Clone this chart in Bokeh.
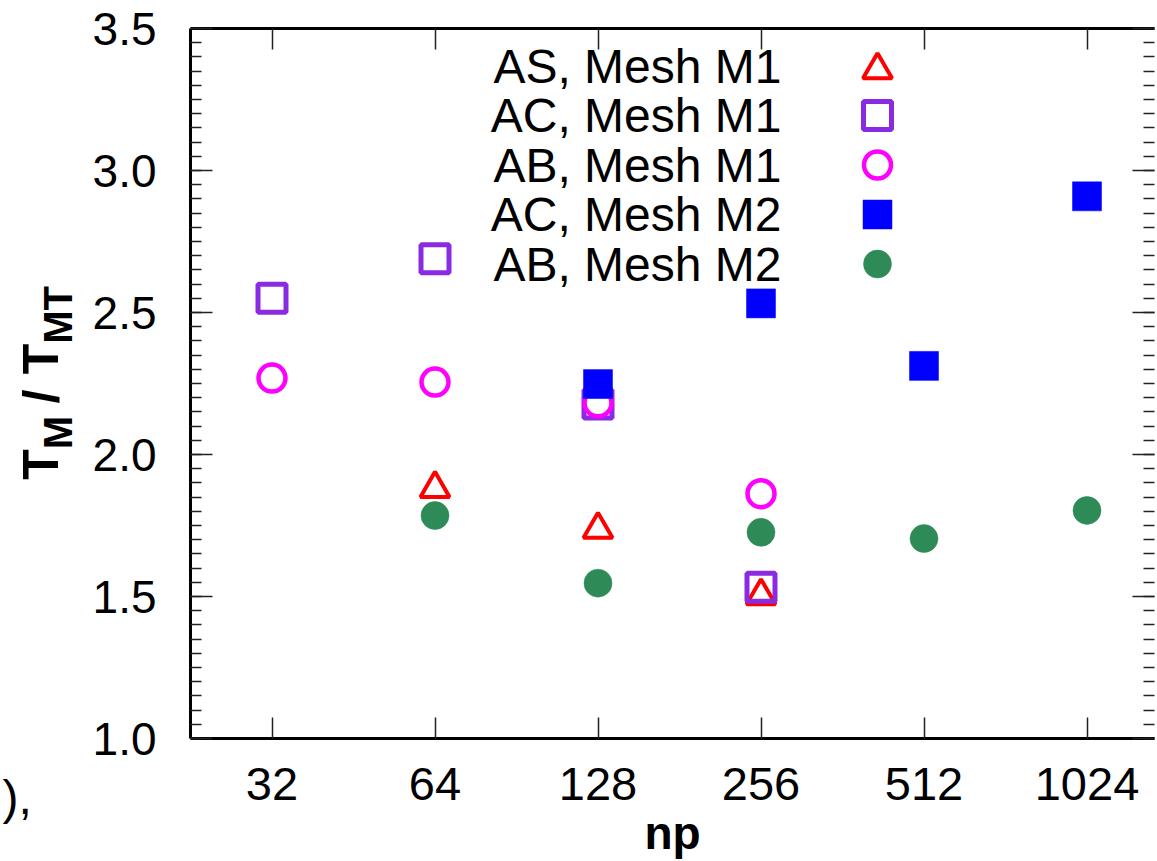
import math
from bokeh.plotting import figure
from bokeh.layouts import row
from bokeh.models import (Range1d, FixedTicker, SingleIntervalTicker, LinearAxis,
                          LogAxis, NumeralTickFormatter, Title)
from bokeh.core.properties import value
from bokeh.embed import file_html
from bokeh.resources import INLINE

# ---------------- data ----------------
np_ticks = [32, 64, 128, 256, 512, 1024]
np_tick_labels = ["32", "64", "128", "256", "512", "1024"]

as_m1_np = [64, 128, 256]
as_m1 = [1.880, 1.736, 1.502]

ac_m1_np = [32, 64, 128, 256]
ac_m1 = [2.550, 2.689, 2.178, 1.533]

ab_m1_np = [32, 64, 128, 256]
ab_m1 = [2.269, 2.255, 2.182, 1.862]

ac_m2_np = [128, 256, 512, 1024]
ac_m2 = [2.248, 2.532, 2.312, 2.909]

ab_m2_np = [64, 128, 256, 512, 1024]
ab_m2 = [1.785, 1.547, 1.726, 1.704, 1.803]

legend_labels = ["AS, Mesh M1", "AC, Mesh M1", "AB, Mesh M1",
                 "AC, Mesh M2", "AB, Mesh M2"]

# ---------------- layout ----------------
FONT = "Liberation Sans"
TOTAL_W, TOTAL_H = 1157, 861
LAB_W = 80                     # strip on the left holding the y-axis title
W, H = TOTAL_W - LAB_W, TOTAL_H
ML, MT, MB, MR = 110, 28, 123, 3
FRAME_LEFT_PX = LAB_W + ML     # frame left edge in page pixels
FRAME_TOP_PX = MT
FRAME_BOTTOM_PX = H - MB
PX_PER_OCT = 163.0             # pixels per doubling of np
PX_PER_UNIT = 284.0            # pixels per unit of y
frame_w = W - ML - MR
X0 = 2 ** 4.5
X1 = 2 ** (4.5 + frame_w / PX_PER_OCT)

p = figure(width=W, height=H, x_axis_type="log",
           x_range=Range1d(X0, X1), y_range=Range1d(1.0, 3.5),
           output_backend="svg", toolbar_location=None,
           min_border_left=ML, min_border_top=MT,
           min_border_bottom=MB, min_border_right=MR)
p.grid.visible = False
p.outline_line_color = None
p.background_fill_color = "white"
p.border_fill_color = "white"

TICK_COLOR = "#222222"

xa = p.xaxis[0]
xa.ticker = FixedTicker(ticks=np_ticks)
xa.major_label_overrides = {t: l for t, l in zip(np_ticks, np_tick_labels)}
xa.axis_line_color = "black"
xa.axis_line_width = 3
xa.major_tick_in = 21
xa.major_tick_out = 0
xa.major_tick_line_width = 1.5
xa.major_tick_line_color = TICK_COLOR
xa.minor_tick_line_color = None
xa.major_label_standoff = 29
xa.major_label_text_font = FONT
xa.major_label_text_font_size = "47px"
xa.major_label_text_color = "black"
xa.axis_label = "np"
xa.axis_label_text_font = FONT
xa.axis_label_text_font_size = "46px"
xa.axis_label_text_font_style = "bold"
xa.axis_label_text_color = "black"
xa.axis_label_standoff = 4

ya = p.yaxis[0]
ya.ticker = SingleIntervalTicker(interval=0.5, num_minor_ticks=10)
ya.formatter = NumeralTickFormatter(format="0.0")
ya.axis_line_color = "black"
ya.axis_line_width = 3
ya.major_tick_in = 22
ya.major_tick_out = 0
ya.minor_tick_in = 11
ya.minor_tick_out = 0
ya.major_tick_line_width = 1.5
ya.minor_tick_line_width = 1.5
ya.major_tick_line_color = TICK_COLOR
ya.minor_tick_line_color = TICK_COLOR
ya.major_label_standoff = 34
ya.major_label_text_font = FONT
ya.major_label_text_font_size = "46px"
ya.major_label_text_color = "black"
ya.major_label_text_line_height = 1.0

top = LogAxis(ticker=FixedTicker(ticks=np_ticks), axis_line_color="black",
              axis_line_width=3,
              major_tick_in=21, major_tick_out=0, major_tick_line_width=1.5,
              major_tick_line_color=TICK_COLOR, minor_tick_line_color=None,
              major_label_text_font_size="0px", major_label_text_color=None,
              major_label_standoff=0)
p.add_layout(top, "above")
# right border lies beyond the reference's crop: ticks only, no line
right = LinearAxis(ticker=SingleIntervalTicker(interval=0.5, num_minor_ticks=10),
                   axis_line_color=None,
                   major_tick_in=22, major_tick_out=0, minor_tick_in=11, minor_tick_out=0,
                   major_tick_line_width=1.5, minor_tick_line_width=1.5,
                   major_tick_line_color=TICK_COLOR, minor_tick_line_color=TICK_COLOR,
                   major_label_text_font_size="0px", major_label_text_color=None,
                   major_label_standoff=0)
p.add_layout(right, "right")

# ---------------- series ----------------
styles = [
    dict(marker="triangle", size=29, fill_color=None, line_color="#ff0000", line_width=4),
    dict(marker="square", size=28, fill_color=None, line_color="#8a2be2", line_width=5),
    dict(marker="circle", size=27, fill_color=None, line_color="#ff00ff", line_width=4.5),
    dict(marker="square", size=29, fill_color="#0000ff", line_color="#0000ff", line_width=0.5),
    dict(marker="circle", size=28, fill_color="#2e8b57", line_color="#2e8b57", line_width=0.5),
]
series = [(as_m1_np, as_m1), (ac_m1_np, ac_m1), (ab_m1_np, ab_m1),
          (ac_m2_np, ac_m2), (ab_m2_np, ab_m2)]
for (xs, ys), st in zip(series, styles):
    p.scatter(xs, ys, **st)

# ---------------- legend (text left, symbol right, gnuplot style) ----------------
def px_to_x(px):
    return 2 ** (4.5 + (px - FRAME_LEFT_PX) / PX_PER_OCT)

def px_to_y(py):
    return 3.5 - (py - FRAME_TOP_PX) / PX_PER_UNIT

leg_text_x = px_to_x(781)
leg_sym_x = px_to_x(877)
for i, (lab_txt, st) in enumerate(zip(legend_labels, styles)):
    row_py = 65.5 + 49.5 * i
    ly = px_to_y(row_py)
    sy = px_to_y(row_py + (4 if st["marker"] == "triangle" else 0))
    p.text(x=[leg_text_x], y=[ly], text=[lab_txt], text_align="right",
           text_baseline="middle", text_font=value(FONT),
           text_font_size="48px", text_color="black")
    p.scatter([leg_sym_x], [sy], **st)

# ---------------- left strip: y-axis title with subscripts ----------------
lab = figure(width=LAB_W, height=H, x_range=Range1d(0, LAB_W),
             y_range=Range1d(-FRAME_BOTTOM_PX, -FRAME_TOP_PX),
             x_axis_location=None, y_axis_location=None,
             output_backend="svg", toolbar_location=None,
             min_border_left=0, min_border_right=0,
             min_border_top=MT, min_border_bottom=MB)
lab.grid.visible = False
lab.outline_line_color = None
lab.background_fill_color = "white"
lab.border_fill_color = "white"

# (text, font px, baseline x, start y) in page pixels; drawn with a "middle"
# baseline, so the anchor sits 0.35 em above the baseline
ylab_parts = [("T", 50, 58.3, 479.3), ("M", 40, 71.7, 448.8), ("/", 50, 58.3, 403.0),
              ("T", 50, 58.3, 373.8), ("MT", 40, 71.7, 343.3)]
for txt, fs, bx, iy in ylab_parts:
    lab.text(x=[bx - 0.35 * fs], y=[-iy], text=[txt], angle=math.pi / 2,
             text_align="left", text_baseline="middle",
             text_font=value(FONT), text_font_size=f"{fs}px",
             text_font_style="bold", text_color="black")

# remnant of a caption at the bottom-left edge
lab.add_layout(Title(text="),", align="left", offset=2, standoff=60,
                     text_font=FONT, text_font_size="48px",
                     text_font_style="normal", text_color="black"), "below")

layout = row(lab, p)
open("out.html", "w").write(file_html(layout, INLINE))
